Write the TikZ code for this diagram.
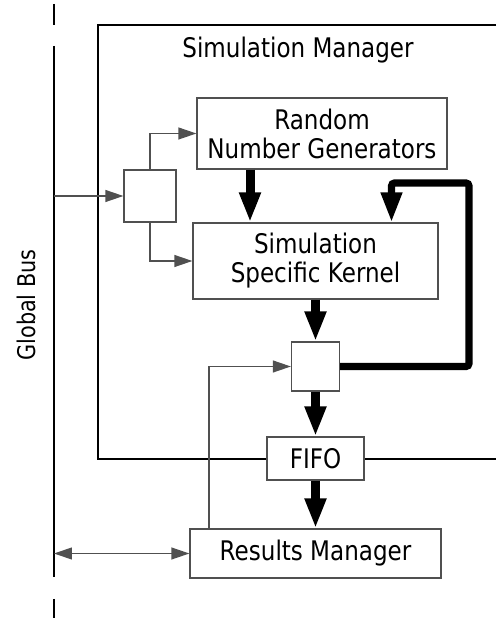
\documentclass[tikz,border=0pt]{standalone}
\usepackage{graphicx}
\usepackage{fontspec}
\setmainfont{DejaVu Sans}
\usetikzlibrary{arrows.meta}
\definecolor{boxcolor}{HTML}{505050}
\newcommand{\tall}[1]{\scalebox{1}[1.17]{#1}}

\begin{document}
\begin{tikzpicture}[font=\fontsize{16.4}{20.6}\selectfont,
    >={Triangle[length=12.8pt,width=8.5pt]},
    box/.style={draw=boxcolor, line width=0.9pt, fill=white, inner sep=0pt, align=center},
    link/.style={draw=boxcolor, line width=0.9pt},
    busline/.style={black, line width=0.9pt},
    bigarrow/.style={line width=6.4pt, -{Triangle[length=21.3pt,width=14.2pt]}},
    loopline/.style={line width=5pt, rounded corners=2pt, -{Triangle[length=21.3pt,width=14.2pt]}}]
  \useasboundingbox (0,0) rectangle (12.4,15.475);

  % global bus, broken at both ends
  \foreach \ya/\yb in {15.375/14.85, 14.325/1.05, 0.5/0.025}
    \draw[busline] (1.35,\ya) -- (1.35,\yb);
  \coordinate (busin) at (1.35,10.575);
  \coordinate (busres) at (1.35,1.6375);
  \node[rotate=90, font=\fontsize{14.8}{18}\selectfont] (buslabel) at (0.66,7.85) {\tall{Global Bus}};

  % simulation manager frame
  \draw[busline] (12.4,14.85) -- (2.45,14.85) -- (2.45,4.0) -- (12.4,4.0);
  \node (simtitle) at (7.45,14.22) {\tall{Simulation Manager}};

  \node[box, minimum width=6.25cm, minimum height=1.775cm] (rng) at (8.05,12.1375) {\tall{Random}\\\tall{Number Generators}};
  \node[box, minimum size=1.3cm] (muxin) at (3.75,10.575) {};
  \node[box, minimum width=6.125cm, minimum height=1.9cm] (kernel) at (7.8875,8.95) {\tall{Simulation}\\\tall{Specific Kernel}};
  \node[box, minimum width=1.2cm, minimum height=1.225cm] (muxout) at (7.8875,6.3125) {};
  \node[box, minimum width=2.425cm, minimum height=1.075cm] (fifo) at (7.8875,4.0125) {\tall{FIFO}};
  \node[box, minimum width=6.275cm, minimum height=1.225cm] (results) at (7.8875,1.6375) {\tall{Results Manager}};

  % thin links
  \draw[link,->] (busin) -- (muxin.west);
  \draw[link,->] (muxin.north) |- (rng.west);
  \draw[link,->] (muxin.south) |- (kernel.west);
  \draw[link,->] ([xshift=-2.6625cm]results.north) |- (muxout.west);
  \draw[link,<->] (busres) -- (results.west);

  % data path
  \draw[bigarrow] ([xshift=-1.8cm]rng.south) -- ([xshift=-1.8cm]rng.south |- kernel.north);
  \draw[bigarrow] (kernel.south) -- (muxout.north);
  \draw[bigarrow] (muxout.south) -- (fifo.north);
  \draw[bigarrow] (fifo.south) -- (results.north);
  \draw[loopline] (muxout.east) -| (11.725,10.9) -| ([xshift=1.9cm]kernel.north);
\end{tikzpicture}
\end{document}
